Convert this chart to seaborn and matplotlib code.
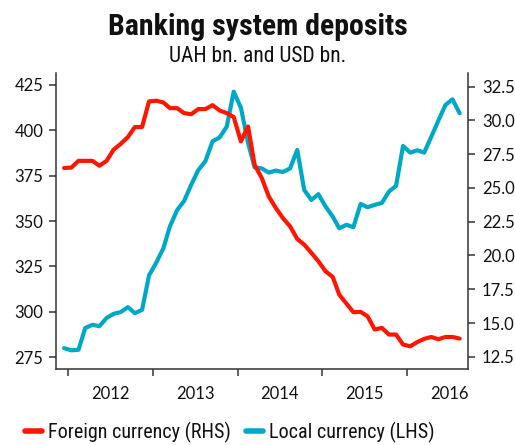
import matplotlib
matplotlib.use("Agg")
import matplotlib.pyplot as plt
from matplotlib import font_manager as fm
import seaborn as sns
import pandas as pd
from matplotlib.lines import Line2D

# Data (monthly, Dec 2011 - Aug 2016)
months = pd.date_range(start="2011-12-01", periods=57, freq="MS") + pd.Timedelta(days=14)

local_currency_uah = [
    279.9, 278.7, 279.0, 291.0, 292.8, 292.0, 296.5, 298.8, 299.8, 302.5,
    299.2, 301.0, 320.0, 327.0, 335.0, 347.0, 356.0, 361.0, 370.0, 378.0,
    383.0, 394.0, 396.0, 402.0, 421.3, 412.5, 393.0, 379.6, 379.0, 376.7,
    377.8, 377.0, 379.0, 389.2, 367.1, 361.6, 364.8, 358.0, 352.4, 346.0,
    347.9, 346.6, 359.4, 357.6, 358.9, 360.0, 366.2, 369.4, 391.4, 387.7,
    389.0, 387.7, 396.5, 405.3, 414.0, 417.1, 409.4,
]

foreign_currency_usd = [
    26.47, 26.50, 27.00, 27.00, 27.00, 26.64, 27.00, 27.82, 28.26, 28.76,
    29.50, 29.50, 31.40, 31.45, 31.32, 30.90, 30.90, 30.53, 30.45, 30.83,
    30.83, 31.12, 30.73, 30.53, 30.24, 28.44, 29.54, 26.71, 25.73, 24.37,
    23.50, 22.77, 22.15, 21.22, 20.80, 20.19, 19.57, 18.83, 18.41, 17.10,
    16.44, 15.80, 15.83, 15.50, 14.52, 14.64, 14.15, 14.15, 13.41, 13.28,
    13.60, 13.83, 13.97, 13.80, 13.97, 13.97, 13.85,
]

left_ticks = [275, 300, 325, 350, 375, 400, 425]
right_ticks = [12.5, 15.0, 17.5, 20.0, 22.5, 25.0, 27.5, 30.0, 32.5]
year_labels = ["2012", "2013", "2014", "2015", "2016"]

title = "Banking system deposits"
subtitle = "UAH bn. and USD bn."
label_foreign = "Foreign currency (RHS)"
label_local = "Local currency (LHS)"

RED = "#ff1500"
BLUE = "#00a8c8"
SPINE = "#333333"

df = pd.DataFrame({"date": months, "local": local_currency_uah, "foreign": foreign_currency_usd})

installed = {f.name for f in fm.fontManager.ttflist}
narrow_name = next((n for n in ["Roboto Condensed", "Liberation Sans Narrow", "Open Sans Condensed",
                                "Noto Sans Condensed", "DejaVu Sans Condensed"] if n in installed), None)
condensed = narrow_name is not None
if narrow_name is None:
    narrow_name = "Lato"
narrow = [narrow_name, "DejaVu Sans"]

sns.set_theme(style="white")
plt.rcParams["font.family"] = ["Lato", "DejaVu Sans"]

fig = plt.figure(figsize=(5.15, 4.45), dpi=100)
ax = fig.add_axes([56 / 515, 1 - 369 / 445, (468 - 56) / 515, (369 - 73) / 445])
ax2 = ax.twinx()

sns.lineplot(data=df, x="date", y="local", ax=ax, color=BLUE, linewidth=3.0, legend=False)
sns.lineplot(data=df, x="date", y="foreign", ax=ax2, color=RED, linewidth=3.0, legend=False)

ax.set_ylim(268.4, 431.6)
ax2.set_ylim(11.6, 33.5)
ax.set_xlim(pd.Timestamp("2011-11-10"), pd.Timestamp("2016-09-20"))

ax.set_yticks(left_ticks)
ax.set_yticklabels([f"{v:g}" for v in left_ticks])
ax2.set_yticks(right_ticks)
ax2.set_yticklabels([f"{v:.1f}" for v in right_ticks])

years = [int(y) for y in year_labels]
ax.set_xticks([pd.Timestamp(f"{y}-01-01") for y in years])
ax.set_xticklabels([""] * len(years))
ax.set_xticks([pd.Timestamp(f"{y}-07-01") for y in years], minor=True)
ax.set_xticklabels(year_labels, minor=True)

for a in (ax, ax2):
    a.set_xlabel("")
    a.set_ylabel("")
    a.grid(False)
    a.spines["top"].set_visible(False)
    for s in ("left", "right", "bottom"):
        a.spines[s].set_color(SPINE)
        a.spines[s].set_linewidth(1.1)

ax.spines["right"].set_visible(False)
ax2.spines["left"].set_visible(False)
ax2.spines["bottom"].set_visible(False)

ax.tick_params(axis="y", which="major", left=True, length=5, width=1.1, color=SPINE,
               labelsize=12, pad=4, labelcolor="#111111")
ax2.tick_params(axis="y", which="major", right=True, length=5, width=1.1, color=SPINE,
                labelsize=12, pad=5, labelcolor="#111111")
ax.tick_params(axis="x", which="major", bottom=True, length=5, width=1.1, color=SPINE)
ax.tick_params(axis="x", which="minor", bottom=True, length=0, labelsize=12, pad=12,
               labelcolor="#111111")

title_size = 21.5 if condensed else 17
sub_size = 15.5 if condensed else 13.5
leg_size = 14.5 if condensed else 12.5

fig.text(0.5, 1 - 27 / 445, title, ha="center", va="center", fontsize=title_size,
         fontweight="bold", family=narrow, color="#111111")
fig.text(0.5, 1 - 56 / 445, subtitle, ha="center", va="center", fontsize=sub_size,
         family=narrow, color="#111111")

handles = [Line2D([0], [0], color=RED, lw=4), Line2D([0], [0], color=BLUE, lw=4)]
fig.legend(handles, [label_foreign, label_local], loc="center left",
           bbox_to_anchor=(25 / 515, 1 - 432 / 445),
           ncol=2, frameon=False, handlelength=0.85, handletextpad=0.3, columnspacing=0.75,
           borderaxespad=0, borderpad=0,
           prop={"family": narrow, "size": leg_size}, labelcolor="#111111")

fig.savefig("out.png", dpi=100)
